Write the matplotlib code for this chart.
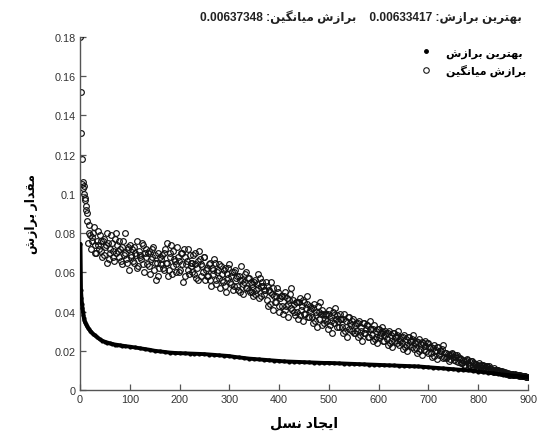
import matplotlib
matplotlib.use("Agg")
import matplotlib.pyplot as plt
from matplotlib.lines import Line2D
import numpy as np

# ---------------- data (values in units of 1e-4) ----------------
best_gens = [1, 2, 3, 4, 5, 6, 7, 8, 9, 10, 12, 14, 16, 18, 20, 23, 26, 30, 35, 40,
             45, 50, 55, 60, 65, 70, 75, 80, 85, 90,
             100, 110, 120, 130, 140, 150, 160, 170, 180, 190,
             200, 210, 220, 230, 240, 250, 260, 270, 280, 290,
             300, 310, 320, 330, 340, 350, 360, 370, 380, 390,
             400, 410, 420, 430, 440, 450, 460, 470, 480, 490,
             500, 510, 520, 530, 540, 550, 560, 570, 580, 590,
             600, 610, 620, 630, 640, 650, 660, 670, 680, 690,
             700, 710, 720, 730, 740, 750, 760, 770, 780, 790,
             800, 810, 820, 830, 840, 850, 860, 870, 880, 890, 900]
best_e4 = [745, 510, 470, 440, 420, 400, 380, 365, 355, 345, 335, 325, 317, 310, 303, 295, 287, 278, 268, 258,
           251, 246, 242, 238, 235, 232, 230, 228, 226, 224,
           221, 217, 213, 209, 205, 200, 197, 194, 191, 189,
           188, 187, 186, 185, 184, 183, 181, 179, 177, 175,
           173, 169, 166, 163, 160, 158, 156, 154, 152, 150,
           148, 146, 145, 144, 143, 142, 141, 140, 139, 138,
           138, 137, 136, 135, 134, 133, 132, 131, 130, 129,
           128, 127, 126, 125, 124, 123, 122, 121, 120, 118,
           116, 114, 112, 110, 108, 106, 104, 102, 100, 97,
           94, 91, 88, 85, 82, 79, 76, 73, 71, 68, 66]

mean_gens_early = [1, 2, 3, 4, 5, 6, 7, 8, 9, 10, 11, 12, 13, 14]
mean_e4_early = [1800, 1520, 1310, 1180, 1050, 1060, 1030, 1040, 1000, 980, 970, 940, 920, 900]

mean_gens_a = list(range(15, 901, 3))
mean_e4_a = [
    860, 840, 790, 760, 800, 740, 700, 810, 720, 760,
    680, 770, 730, 650, 750, 700, 790, 710, 660, 800,
    740, 680, 720, 640, 760, 700, 670, 730, 610, 690,
    720, 650, 700, 760, 630, 690, 670, 740, 600, 680,
    640, 710, 590, 680, 730, 650, 560, 700, 620, 670,
    690, 610, 720, 650, 580, 700, 740, 630, 670, 600,
    730, 660, 610, 700, 550, 680, 640, 720, 590, 650,
    600, 690, 640, 570, 660, 710, 580, 630, 680, 560,
    620, 580, 650, 530, 610, 670, 560, 600, 640, 520,
    590, 550, 620, 500, 570, 640, 540, 600, 530, 610,
    580, 510, 560, 630, 490, 550, 600, 520, 570, 500,
    540, 480, 560, 510, 590, 470, 530, 550, 490, 510,
    530, 430, 500, 550, 410, 480, 450, 520, 400, 470,
    480, 390, 500, 430, 370, 460, 520, 410, 440, 380,
    450, 360, 470, 410, 350, 450, 390, 480, 370, 430,
    420, 340, 440, 380, 320, 400, 450, 330, 390, 360,
    390, 310, 410, 350, 290, 380, 420, 320, 350, 390,
    360, 290, 390, 320, 270, 370, 340, 300, 360, 290,
    340, 270, 350, 300, 250, 340, 290, 330, 270, 350,
    310, 250, 330, 270, 240, 310, 280, 320, 250, 300,
    290, 230, 300, 250, 220, 290, 270, 240, 300, 250,
    270, 210, 280, 230, 200, 270, 250, 220, 280, 240,
    250, 190, 260, 210, 180, 240, 250, 200, 240, 220,
    220, 170, 230, 200, 160, 220, 190, 200, 230, 170,
    190, 170, 180, 160, 190, 170, 180, 150, 170, 160,
    160, 140, 150, 130, 160, 140, 130, 150, 120, 140,
    130, 115, 140, 120, 110, 130, 115, 120, 105, 120,
    105, 95, 110, 100, 90, 100, 95, 88, 92, 85,
    88, 80, 84, 78, 82, 76, 79, 74, 77, 72,
    73, 70, 71, 69, 68, 67]

mean_gens_b = list(range(16, 901, 3))
mean_e4_b = [
    750, 800, 720, 780, 830, 700, 760, 740, 790, 710,
    760, 690, 740, 800, 670, 720, 750, 680, 770, 700,
    710, 760, 660, 730, 690, 800, 650, 720, 740, 680,
    660, 730, 690, 620, 710, 680, 750, 640, 700, 720,
    700, 630, 670, 720, 610, 690, 650, 580, 680, 640,
    620, 700, 650, 750, 610, 680, 590, 710, 660, 640,
    680, 600, 700, 640, 720, 580, 660, 610, 690, 630,
    650, 590, 700, 620, 560, 670, 640, 600, 680, 610,
    580, 640, 560, 620, 590, 650, 540, 610, 570, 630,
    560, 610, 530, 590, 620, 550, 580, 510, 600, 570,
    530, 580, 500, 560, 540, 590, 520, 570, 510, 550,
    500, 550, 490, 540, 520, 570, 480, 530, 510, 550,
    460, 510, 440, 490, 520, 450, 480, 500, 430, 480,
    430, 480, 410, 470, 440, 490, 420, 460, 400, 450,
    400, 450, 380, 430, 460, 390, 420, 440, 370, 410,
    370, 420, 350, 400, 430, 360, 390, 410, 340, 380,
    350, 390, 330, 370, 400, 340, 360, 380, 320, 360,
    320, 360, 300, 350, 370, 310, 330, 350, 290, 330,
    300, 340, 280, 320, 340, 290, 310, 330, 270, 310,
    280, 310, 260, 300, 310, 270, 290, 300, 250, 280,
    260, 290, 240, 280, 290, 250, 270, 280, 230, 260,
    240, 270, 220, 260, 270, 230, 250, 260, 210, 240,
    215, 245, 200, 235, 245, 205, 225, 240, 190, 215,
    190, 215, 175, 205, 220, 180, 200, 210, 165, 190,
    165, 185, 150, 180, 185, 155, 170, 180, 145, 165,
    140, 155, 125, 150, 155, 130, 145, 150, 120, 135,
    115, 130, 105, 125, 128, 108, 118, 124, 100, 112,
    98, 104, 90, 100, 102, 92, 96, 98, 86, 92,
    82, 86, 78, 84, 80, 76, 80, 78, 74, 76,
    72, 70, 69, 68, 67]

x_ticks = [0, 100, 200, 300, 400, 500, 600, 700, 800, 900]
y_ticks = [0, 0.02, 0.04, 0.06, 0.08, 0.1, 0.12, 0.14, 0.16, 0.18]
y_tick_labels = ["0", "0.02", "0.04", "0.06", "0.08", "0.1", "0.12", "0.14", "0.16", "0.18"]

best_value_text = "0.00633417"
mean_value_text = "0.00637348"
label_best = "بهترین برازش"
label_mean = "برازش میانگین"
label_y = "مقدار برازش"
label_x = "ایجاد نسل"

# ---------------- minimal Persian shaping (presentation forms) ----------------
FORMS = {
    'ا': ('\uFE8D', '\uFE8E', None, None),
    'ب': ('\uFE8F', '\uFE90', '\uFE91', '\uFE92'),
    'ت': ('\uFE95', '\uFE96', '\uFE97', '\uFE98'),
    'ج': ('\uFE9D', '\uFE9E', '\uFE9F', '\uFEA0'),
    'د': ('\uFEA9', '\uFEAA', None, None),
    'ر': ('\uFEAD', '\uFEAE', None, None),
    'ز': ('\uFEAF', '\uFEB0', None, None),
    'س': ('\uFEB1', '\uFEB2', '\uFEB3', '\uFEB4'),
    'ش': ('\uFEB5', '\uFEB6', '\uFEB7', '\uFEB8'),
    'ق': ('\uFED5', '\uFED6', '\uFED7', '\uFED8'),
    'ل': ('\uFEDD', '\uFEDE', '\uFEDF', '\uFEE0'),
    'م': ('\uFEE1', '\uFEE2', '\uFEE3', '\uFEE4'),
    'ن': ('\uFEE5', '\uFEE6', '\uFEE7', '\uFEE8'),
    'ه': ('\uFEE9', '\uFEEA', '\uFEEB', '\uFEEC'),
    'ی': ('\uFBFC', '\uFBFD', '\uFBFE', '\uFBFF'),
    'گ': ('\uFB92', '\uFB93', '\uFB94', '\uFB95'),
}
NONJOIN = set('ادذرزژو')


def shape(text):
    out = []
    n = len(text)
    for i, ch in enumerate(text):
        if ch not in FORMS:
            out.append(ch)
            continue
        prev = text[i - 1] if i > 0 else None
        nxt = text[i + 1] if i < n - 1 else None
        jp = prev in FORMS and prev not in NONJOIN
        jn = nxt in FORMS and ch not in NONJOIN
        iso, fin, ini, med = FORMS[ch]
        if jp and jn:
            f = med
        elif jp:
            f = fin
        elif jn:
            f = ini
        else:
            f = iso
        out.append(f)
    return ''.join(out)


def rtl(text):
    return shape(text)[::-1]


FAM = ['Liberation Sans', 'DejaVu Sans']
plt.rcParams['font.family'] = FAM

best = np.array(best_e4) * 1e-4
mean_gens = mean_gens_early + mean_gens_a + mean_gens_b
mean = np.array(mean_e4_early + mean_e4_a + mean_e4_b) * 1e-4

fig = plt.figure(figsize=(5.39, 4.35), dpi=100)
ax = fig.add_axes([80 / 539, 1 - 391 / 435, (528 - 80) / 539, (391 - 38) / 435])

ax.plot(mean_gens, mean, linestyle='none', marker='o', markersize=4.1,
        markerfacecolor='none', markeredgecolor='#111111', markeredgewidth=0.85, zorder=2)
ax.plot(best_gens, best, linestyle='-', color='black', linewidth=2.8, zorder=3,
        solid_capstyle='round')
ax.plot(best_gens, best, linestyle='none', marker='.', markersize=4, color='black', zorder=3)

ax.set_xlim(0, 900)
ax.set_ylim(0, 0.18)
ax.set_xticks(x_ticks)
ax.set_xticklabels([str(t) for t in x_ticks])
ax.set_yticks(y_ticks)
ax.set_yticklabels(y_tick_labels)
for s in ['top', 'right']:
    ax.spines[s].set_visible(False)
for s in ['left', 'bottom']:
    ax.spines[s].set_color('#555555')
    ax.spines[s].set_linewidth(1.0)
ax.tick_params(direction='in', length=4, width=0.9, color='#555555',
               labelsize=7.8, labelcolor='#333333', pad=3)

handles = [Line2D([], [], linestyle='none', marker='.', markersize=5, color='black'),
           Line2D([], [], linestyle='none', marker='o', markersize=4.0,
                  markerfacecolor='none', markeredgecolor='#1a1a1a', markeredgewidth=0.8)]
leg = ax.legend(handles, [rtl(label_best), rtl(label_mean)], loc='upper right',
                bbox_to_anchor=(1.01, 0.99), frameon=False,
                prop={'family': FAM, 'weight': 'bold', 'size': 8},
                handlelength=1.0, handletextpad=1.3, labelspacing=0.6, borderaxespad=0.2)

title_visual = (mean_value_text + " :" + rtl(label_mean) + "    " +
                best_value_text + " :" + rtl(label_best))
fig.text(200 / 539, 1 - 17 / 435, title_visual, ha='left', va='center',
         fontsize=8.6, fontweight='bold', family=FAM, color='#222222')

ax.set_ylabel(rtl(label_y), fontsize=9, fontweight='bold', family=FAM, labelpad=12)
ax.set_xlabel(rtl(label_x), fontsize=10, fontweight='bold', family=FAM, labelpad=8)

fig.savefig('out.png', dpi=100)
